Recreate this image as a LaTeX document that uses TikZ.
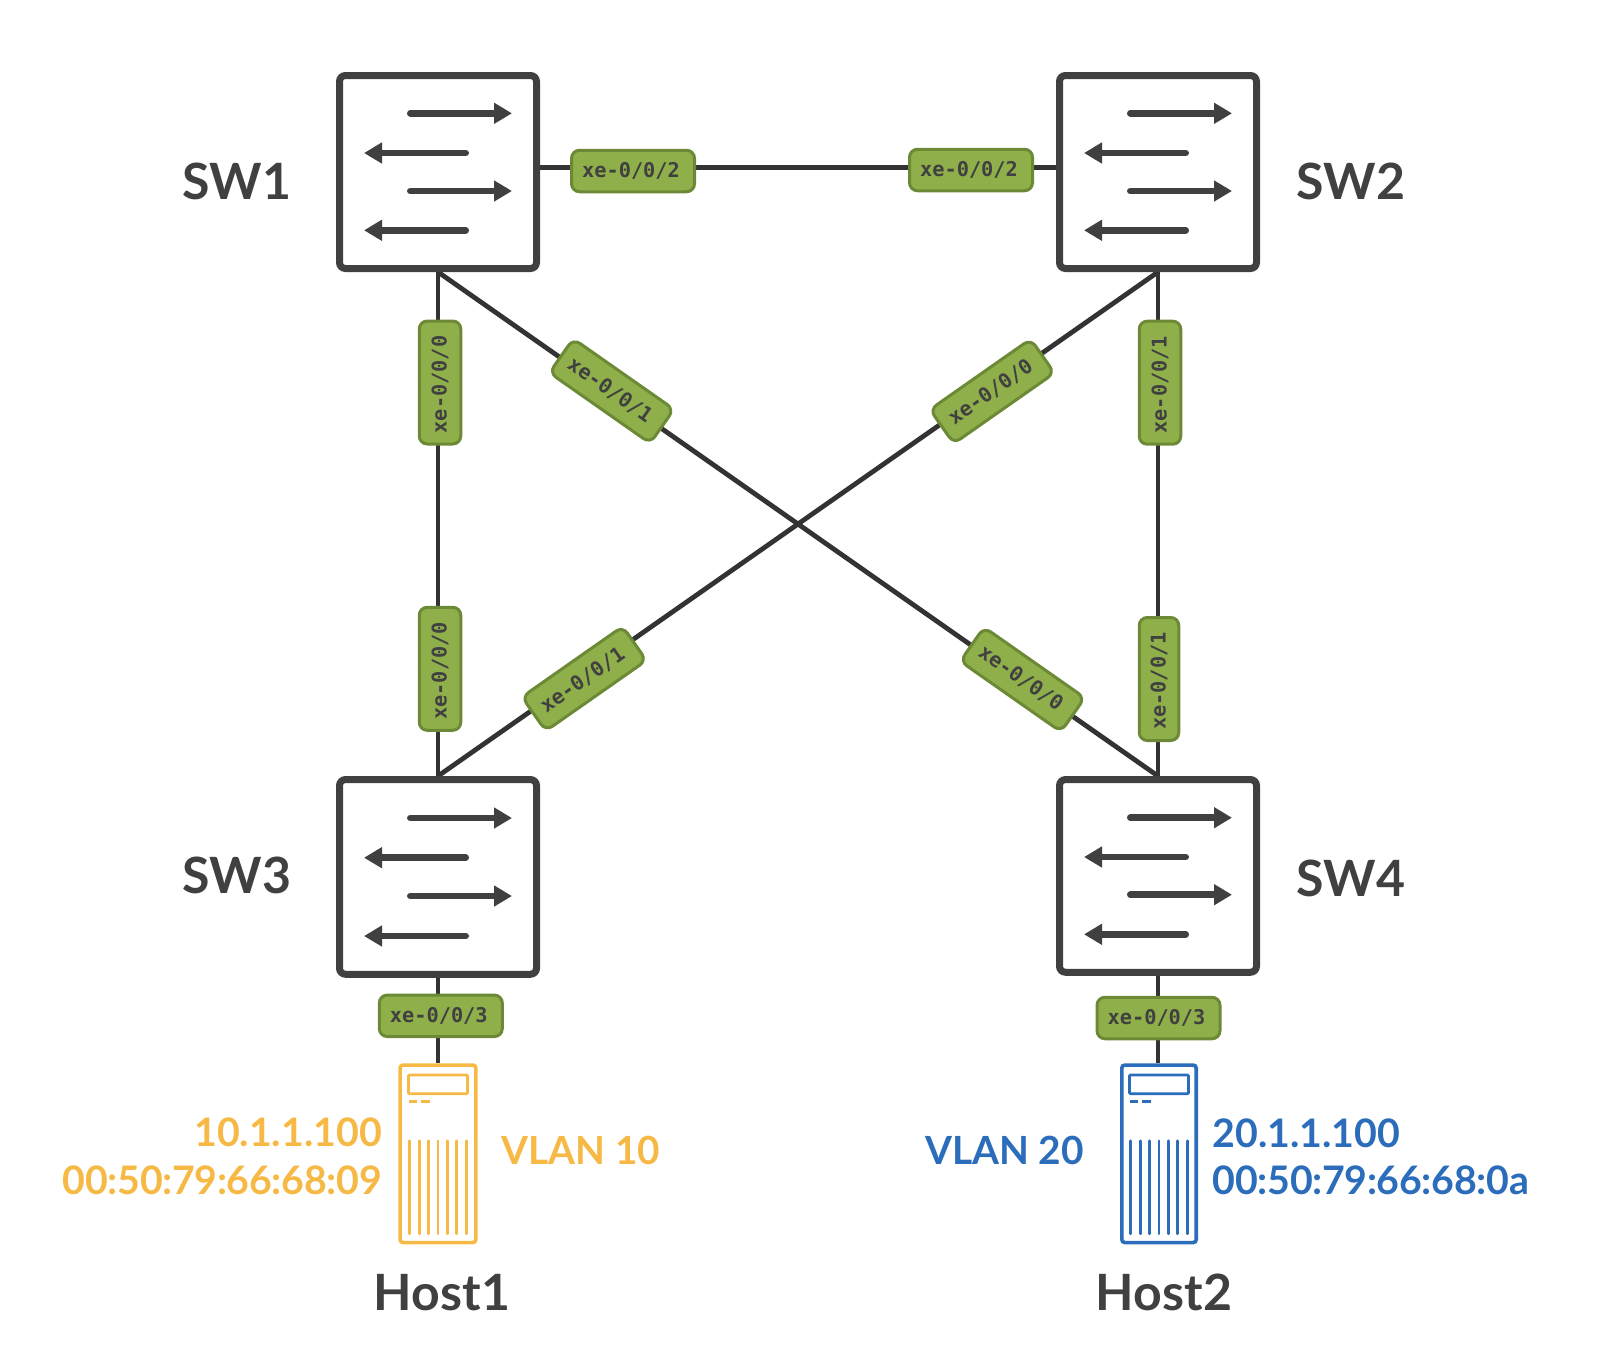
\documentclass[tikz,border=0pt]{standalone}
\usepackage{fontspec}
\setmainfont{Lato}
\setmonofont{DejaVu Sans Mono}
\usetikzlibrary{arrows.meta,backgrounds}
\definecolor{dark}{HTML}{404040}
\definecolor{wire}{HTML}{333333}
\definecolor{portfill}{HTML}{8FAF4A}
\definecolor{portedge}{HTML}{6C8A36}
\definecolor{amber}{HTML}{F7B945}
\definecolor{azure}{HTML}{2B6DBA}
\tikzset{
  x=1pt,y=1pt,
  switchbox/.style={draw=dark,fill=white,line width=7pt,rounded corners=6pt,inner sep=0pt,minimum width=197pt},
  flow/.style={draw=dark,line width=6.5pt,line cap=round,-{Triangle[length=18pt,width=20pt]}},
  wireline/.style={draw=wire,line width=4.8pt},
  port/.style={draw=portedge,fill=portfill,line width=3pt,rounded corners=8pt,inner sep=0pt,
    minimum width=123pt,minimum height=41.5pt,text=dark,font=\fontsize{20.3}{20.3}\selectfont\ttfamily\bfseries},
  hostbox/.style={line width=3.6pt,rounded corners=3pt,inner sep=0pt,minimum height=177.5pt,fill=white},
  title/.style={text=dark,inner sep=0pt,font=\fontsize{50}{50}\selectfont\bfseries},
  info/.style={inner sep=0pt,font=\fontsize{39.3}{39.3}\selectfont\bfseries},
  vlan/.style={inner sep=0pt,font=\fontsize{38.8}{38.8}\selectfont\bfseries},
}
\newcommand{\portname}[1]{\raisebox{1pt}{#1}\kern4pt}
\newcommand{\cln}{\kern-.5pt:\kern-.5pt}
\newcommand{\flows}[5]{%
  \draw[flow] ([shift={(-27.75,#2)}]#1.center) -- ([shift={(74,#2)}]#1.center);
  \draw[flow] ([shift={(27.75,#3)}]#1.center) -- ([shift={(-74,#3)}]#1.center);
  \draw[flow] ([shift={(-27.75,#4)}]#1.center) -- ([shift={(74,#4)}]#1.center);
  \draw[flow] ([shift={(27.75,#5)}]#1.center) -- ([shift={(-74,#5)}]#1.center);
}
\newcommand{\hostparts}[2]{%
  \begin{scope}[shift={(#1.center)},draw=#2,line width=2.7pt]
    \draw[rounded corners=1pt] (-29.5,78.8) rectangle (29.5,60);
    \draw[line width=3pt] (-29,52) -- (-21,52) (-17,52) -- (-8.5,52);
    \foreach \px in {-28.2,-18.8,-9.4,0,9.4,18.8,28.2}
      \draw[line cap=round] (\px,13) -- (\px,-80);
  \end{scope}
}
\begin{document}
\begin{tikzpicture}
\useasboundingbox (0,0) rectangle (1612,-1350);
% switches
\node[switchbox,minimum height=193pt] (sw1) at (438,-172) {};
\node[switchbox,minimum height=193pt] (sw2) at (1158,-172) {};
\node[switchbox,minimum height=194.7pt] (sw3) at (438,-876.9) {};
\node[switchbox,minimum height=192.7pt] (sw4) at (1158,-875.9) {};
\flows{sw1}{58.7}{19}{-19}{-58.3}
\flows{sw2}{58.7}{19}{-19}{-58.3}
\flows{sw3}{58.9}{19.2}{-19.1}{-59.1}
\flows{sw4}{58.2}{18.9}{-18.8}{-58.4}
% hosts
\node[hostbox,draw=amber,minimum width=75.8pt] (host1) at (438,-1153.8) {};
\node[hostbox,draw=azure,minimum width=74.4pt] (host2) at (1159,-1153.8) {};
\hostparts{host1}{amber}
\hostparts{host2}{azure}
% port labels
\node[port] (p12) at (633,-171) {\portname{xe-0/0/2}};
\node[port] (p21) at (971,-170) {\portname{xe-0/0/2}};
\node[port,rotate=90] (p13) at (440,-382.5) {\portname{xe-0/0/0}};
\node[port,rotate=90] (p24) at (1160,-382.7) {\portname{xe-0/0/1}};
\node[port,rotate=90] (p31) at (440,-668.8) {\portname{xe-0/0/0}};
\node[port,rotate=90,minimum height=39.5pt] (p42) at (1159,-679) {\portname{xe-0/0/1}};
\node[port,rotate=-35] (p14) at (611.7,-391) {\portname{xe-0/0/1}};
\node[port,rotate=35] (p23) at (992.2,-391.3) {\portname{xe-0/0/0}};
\node[port,rotate=35] (p32) at (584.2,-678.7) {\portname{xe-0/0/1}};
\node[port,rotate=-35] (p41) at (1022.5,-679.5) {\portname{xe-0/0/0}};
\node[port] (p3h) at (440.8,-1015.8) {\portname{xe-0/0/3}};
\node[port] (p4h) at (1158.5,-1018) {\portname{xe-0/0/3}};
% connectors
\begin{scope}[on background layer]
  \draw[wireline] ([yshift=4.3pt]sw1.east) -- ([yshift=4.3pt]sw2.west);
  \draw[wireline] (sw1.south) -- (sw3.north);
  \draw[wireline] (sw2.south) -- (sw4.north);
  \draw[wireline] (sw1.south) -- (sw4.north);
  \draw[wireline] (sw2.south) -- (sw3.north);
  \draw[wireline] (sw3.south) -- (sw3.south |- host1.north);
  \draw[wireline] (sw4.south) -- (sw4.south |- host2.north);
\end{scope}
% titles
\node[title,anchor=base] (t1) at (237,-199) {SW1};
\node[title,anchor=base] (t2) at (1351,-199) {SW2};
\node[title,anchor=base] (t3) at (237,-893) {SW3};
\node[title,anchor=base] (t4) at (1351,-896.5) {SW4};
\node[title,anchor=base] (t5) at (442,-1310) {Host1};
\node[title,anchor=base] (t6) at (1164,-1310) {Host2};
% host details
\node[info,text=amber,anchor=base east] (i1) at (382,-1146) {10.1.1.100};
\node[info,text=amber,anchor=base east] (i2) at (382,-1194) {00\cln 50\cln 79\cln 66\cln 68\cln 09};
\node[vlan,text=amber,anchor=base west] (i3) at (501.5,-1164.5) {VLAN 10};
\node[vlan,text=azure,anchor=base east] (i4) at (1084,-1164.5) {VLAN 20};
\node[info,text=azure,anchor=base west] (i5) at (1212.5,-1147) {20.1.1.100};
\node[info,text=azure,anchor=base west] (i6) at (1212.5,-1194.5) {00\cln 50\cln 79\cln 66\cln 68\cln 0a};
\end{tikzpicture}
\end{document}
